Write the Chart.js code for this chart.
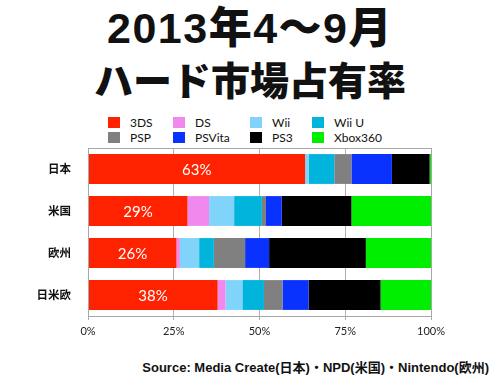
<!DOCTYPE html>
<html><head><meta charset="utf-8">
<script src="https://cdn.jsdelivr.net/npm/chart.js@4"></script>
<style>
body{margin:0;width:500px;height:375px;background:#fff;position:relative;overflow:hidden;font-family:Lato,sans-serif}
.t{position:absolute;left:0;width:500px;text-align:center;font-family:"Noto Sans CJK JP";font-weight:900;color:#111;white-space:nowrap}
#t1{top:2px;font-size:43px;line-height:52px;font-family:"Liberation Sans","Noto Sans CJK JP";letter-spacing:1.5px}
#t2{top:52px;font-size:39px;line-height:52px}
#legend{position:absolute;left:108px;top:116px;display:grid;grid-template-columns:65px 77px 62px 90px;row-gap:3px;font-size:12px;color:#111}
#legend div{display:flex;align-items:center;height:12px;white-space:nowrap}
#legend span.b{display:inline-block;width:12px;height:11px;margin-right:10px}
#src{position:absolute;right:11px;top:357px;font-family:"Liberation Sans","Noto Sans CJK JP";font-weight:700;font-size:13px;color:#111;white-space:nowrap}
#wrap{position:absolute;left:0;top:0;width:500px;height:375px}
</style></head>
<body>
<div class="t" id="t1">2013年4〜9月</div>
<div class="t" id="t2">ハード市場占有率</div>
<div id="legend"></div>
<div id="src">Source: Media Create(日本)・NPD(米国)・Nintendo(欧州)</div>
<div id="wrap"><canvas id="c" width="500" height="375"></canvas></div>
<script>
const regions = ['日本', '米国', '欧州', '日米欧'];
const platforms = ['3DS', 'DS', 'Wii', 'Wii U', 'PSP', 'PSVita', 'PS3', 'Xbox360'];
const colors = ['#ff2200', '#f088ee', '#80d4fa', '#00b4dc', '#808080', '#0a32ff', '#000000', '#00ee00'];
const share3DS = [63.3, 29.0, 25.8, 37.8];
const shareDS = [0, 6.3, 1.0, 2.3];
const shareWii = [1.0, 7.3, 5.6, 4.9];
const shareWiiU = [7.5, 8.1, 4.3, 6.3];
const sharePSP = [5.0, 1.2, 9.1, 5.4];
const sharePSVita = [11.8, 4.6, 7.0, 7.6];
const sharePS3 = [11.0, 20.3, 28.2, 21.0];
const shareXbox360 = [0.4, 23.2, 19.0, 14.7];
const xTicks = [0, 25, 50, 75, 100];

const seriesData = [share3DS, shareDS, shareWii, shareWiiU, sharePSP, sharePSVita, sharePS3, shareXbox360];
const datasets = platforms.map((p, i) => ({
  label: p, data: seriesData[i], backgroundColor: colors[i], borderWidth: 0,
  barPercentage: 0.71, categoryPercentage: 1
}));

// legend (HTML, 4 columns, row-major)
const lg = document.getElementById('legend');
platforms.forEach((p, i) => {
  const d = document.createElement('div');
  d.innerHTML = '<span class="b" style="background:' + colors[i] + '"></span>' + p;
  lg.appendChild(d);
});

const boxPlugin = {
  id: 'box',
  afterDatasetsDraw(chart) {
    const a = chart.chartArea, ctx = chart.ctx;
    ctx.save();
    ctx.strokeStyle = '#a8a8a8'; ctx.lineWidth = 1;
    ctx.strokeRect(Math.round(a.left) + 0.5, Math.round(a.top) + 0.5, Math.round(a.right - a.left), Math.round(a.bottom - a.top));
    const meta = chart.getDatasetMeta(0);
    ctx.fillStyle = '#fff';
    ctx.font = '15px Lato';
    ctx.textAlign = 'center'; ctx.textBaseline = 'middle';
    meta.data.forEach((bar, j) => {
      const v = chart.data.datasets[0].data[j];
      ctx.fillText(Math.round(v) + '%', (bar.base + bar.x) / 2, bar.y + 1);
    });
    ctx.restore();
  }
};

new Chart(document.getElementById('c'), {
  type: 'bar',
  data: { labels: regions, datasets },
  options: {
    indexAxis: 'y', responsive: false, animation: false,
    layout: { padding: { top: 148, bottom: 36, left: 0, right: 69 } },
    plugins: { legend: { display: false }, tooltip: { enabled: false } },
    scales: {
      x: {
        stacked: true, min: 0, max: 100,
        afterBuildTicks: s => { s.ticks = xTicks.map(v => ({ value: v })); },
        afterFit: s => { s.height = 23; },
        grid: { color: '#b0b0b0', tickLength: 4, drawTicks: true },
        border: { color: '#a8a8a8' },
        ticks: { color: '#222', font: { family: 'Lato', size: 11 }, padding: 5, callback: v => v + '%' }
      },
      y: {
        stacked: true,
        afterFit: s => { s.width = 88; },
        grid: { display: false },
        border: { display: false },
        ticks: { color: '#111', padding: 9, font: { family: 'Noto Sans CJK JP', size: 11.5, weight: 'bold' } }
      }
    }
  },
  plugins: [boxPlugin]
});
</script>
</body></html>
